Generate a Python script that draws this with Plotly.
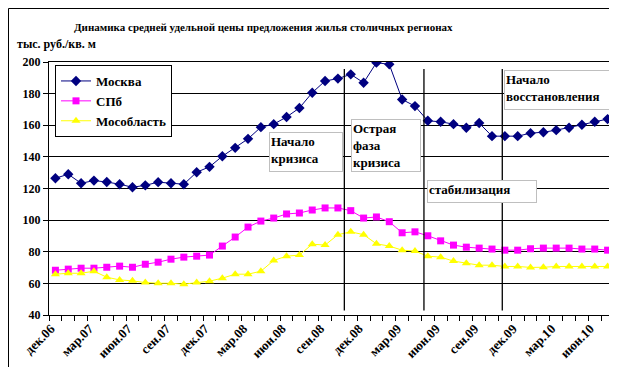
import plotly.graph_objects as go

months = ["дек.06","янв.07","фев.07","мар.07","апр.07","май.07","июн.07","июл.07","авг.07","сен.07","окт.07","ноя.07",
          "дек.07","янв.08","фев.08","мар.08","апр.08","май.08","июн.08","июл.08","авг.08","сен.08","окт.08","ноя.08",
          "дек.08","янв.09","фев.09","мар.09","апр.09","май.09","июн.09","июл.09","авг.09","сен.09","окт.09","ноя.09",
          "дек.09","янв.10","фев.10","мар.10","апр.10","май.10","июн.10","июл.10"]

moscow = [126.5,129.0,123.3,125.0,124.1,122.7,120.8,122.0,124.0,123.3,122.7,130.3,
          133.7,140.4,145.7,151.4,158.8,160.7,165.2,170.9,180.6,188.0,189.5,192.2,
          186.9,199.6,198.5,176.3,172.1,162.8,162.2,160.7,158.4,161.4,153.1,153.1,
          153.1,155.0,155.6,156.9,158.4,160.3,162.2,163.9]

spb = [68.3,69.0,69.6,69.6,70.2,70.9,70.2,72.1,73.4,75.3,76.6,77.2,
       77.9,83.6,89.3,95.6,99.4,101.3,103.9,104.5,106.4,107.7,107.7,106.0,
       101.3,102.0,99.0,92.0,92.6,90.1,86.9,84.2,82.9,82.3,81.7,81.0,
       81.0,81.9,82.3,82.3,82.3,81.7,81.7,81.0]

mosobl = [65.8,66.4,66.4,67.7,63.9,62.2,61.6,60.5,60.1,60.1,59.5,60.5,
          61.4,63.3,65.8,65.8,67.7,74.5,77.2,77.9,84.8,84.2,90.8,92.6,
          90.8,85.0,83.6,81.0,80.4,77.2,76.6,74.1,72.8,71.5,71.5,70.7,
          70.7,70.1,70.2,70.7,70.7,70.7,70.7,70.7]

y_ticks = [40, 60, 80, 100, 120, 140, 160, 180, 200]
label_every = 3
phase_lines = [22.5, 28.7, 34.8]

FONT = "Liberation Serif"
x = list(range(len(months)))

def b(s):
    return "<b>" + s + "</b>"

fig = go.Figure()
fig.add_trace(go.Scatter(x=x, y=moscow, name=b("Москва"), mode="lines+markers", legendgroup="a",
                         line=dict(color="#000080", width=1),
                         marker=dict(symbol="diamond", size=8, color="#000080")))
fig.add_trace(go.Scatter(x=x, y=spb, name=b("СПб"), mode="lines+markers", legendgroup="b",
                         line=dict(color="#FF00FF", width=1),
                         marker=dict(symbol="square", size=7, color="#FF00FF")))
fig.add_trace(go.Scatter(x=x, y=mosobl, name=b("Мособласть"), mode="lines+markers", legendgroup="c",
                         line=dict(color="#FFFF00", width=1),
                         marker=dict(symbol="triangle-up", size=8, color="#FFFF00")))

L, R, T, B = 41, 11, 54, 60
W, H = 617, 367
pw, ph = W - L - R, H - T - B

def px(xp):
    return (xp - L) / pw

def py(yp):
    return (H - B - yp) / ph

tickvals = [i - 0.35 for i in x if i % label_every == 0]
ticktext = [b(months[i]) for i in x if i % label_every == 0]

fig.update_xaxes(range=[-0.5, len(months) - 0.5], showgrid=False, zeroline=False,
                 showline=True, linecolor="black", linewidth=1, mirror=True,
                 tickmode="array", tickvals=tickvals, ticktext=ticktext, tickangle=-45,
                 ticks="", tickfont=dict(family=FONT, size=13, color="black"),
                 minor=dict(tickmode="array", tickvals=[i - 0.5 for i in range(len(months) + 1)],
                            ticks="outside", ticklen=5, tickcolor="black", tickwidth=1, showgrid=False))
fig.update_yaxes(range=[40, 200], tickmode="array", tickvals=y_ticks, ticktext=[b(str(v)) for v in y_ticks],
                 showgrid=True, gridcolor="black", gridwidth=1,
                 zeroline=False, showline=True, linecolor="black", linewidth=1, mirror=True,
                 ticks="outside", ticklen=5, tickcolor="black",
                 tickfont=dict(family=FONT, size=12, color="black"))

shapes = []
for v in phase_lines:
    shapes.append(dict(type="line", xref="x", yref="y", x0=v, x1=v, y0=42.8, y1=195.6,
                       line=dict(color="black", width=1.3), layer="above"))
shapes.append(dict(type="rect", xref="paper", yref="paper", x0=px(0.5), x1=px(615.5),
                   y0=py(365.5), y1=py(0.5), line=dict(color="black", width=1)))

def box(text, left, top, right, bottom, size=13):
    return dict(text=b(text), xref="paper", yref="paper", x=px(left), y=py(top),
                xanchor="left", yanchor="top", showarrow=False, align="left", valign="top",
                width=right - left - 4, height=bottom - top - 4, borderpad=1, borderwidth=1,
                bordercolor="#BFBFBF", bgcolor="white",
                font=dict(family=FONT, size=size, color="black"))

annotations = [
    dict(text=b("Динамика средней удельной цены предложения жилья столичных регионах"),
         xref="paper", yref="paper", x=px(255), y=py(19), xanchor="center", yanchor="middle",
         showarrow=False, font=dict(family=FONT, size=11, color="black")),
    dict(text=b("тыс. руб./кв. м"), xref="paper", yref="paper", x=px(7), y=py(36.5),
         xanchor="left", yanchor="middle", showarrow=False,
         font=dict(family=FONT, size=12, color="black")),
    box("Начало<br>кризиса", 261, 124, 335, 164),
    box("Острая<br>фаза<br>кризиса", 343, 111, 413, 164),
    box("стабилизация", 419, 172, 529, 195),
    box("Начало<br>восстановления", 496, 62, 612, 102),
]

fig.update_layout(width=W, height=H, margin=dict(l=L, r=R, t=T, b=B),
                  paper_bgcolor="white", plot_bgcolor="white",
                  font=dict(family=FONT),
                  shapes=shapes, annotations=annotations,
                  legend=dict(x=px(47), y=py(57), xanchor="left", yanchor="top",
                              bgcolor="white", bordercolor="black", borderwidth=1,
                              tracegroupgap=0, traceorder="normal",
                              font=dict(family=FONT, size=13, color="black")),
                  showlegend=True)

fig.write_html("out.html")
